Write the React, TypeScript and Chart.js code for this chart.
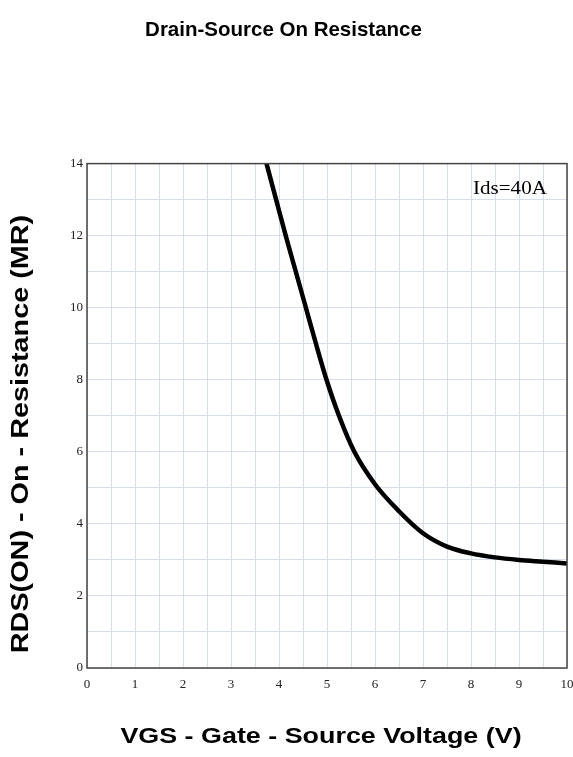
import React, { useEffect, useRef } from "react";
import { Chart, registerables } from "chart.js";

Chart.register(...registerables);

const TITLE = "Drain-Source On Resistance";
const X_TITLE = "VGS - Gate - Source Voltage (V)";
const Y_TITLE = "RDS(ON) - On - Resistance (MR)";
const NOTE = "Ids=40A";

const vgs = [3.74, 3.94, 4.14, 4.35, 4.56, 4.77, 4.99, 5.25, 5.57, 6.0, 6.5, 7.0, 7.5, 8.0, 8.5, 9.0, 9.5, 10.0];
const rds = [14, 13, 12, 11, 10, 9, 8, 7, 6, 5.1, 4.35, 3.74, 3.37, 3.18, 3.07, 3.0, 2.95, 2.9];

const X_MIN = 0;
const X_MAX = 10;
const X_STEP = 0.5;
const Y_MIN = 0;
const Y_MAX = 14;
const Y_STEP = 1;
const Y_LABEL_EVERY = 2;

function stretchedText(ctx: any, text: string, x: number, y: number, font: string, sx: number, rot: number) {
  ctx.save();
  ctx.translate(x, y);
  ctx.rotate(rot);
  ctx.scale(sx, 1);
  ctx.font = font;
  ctx.textAlign = "center";
  ctx.textBaseline = "alphabetic";
  ctx.fillText(text, 0, 0);
  ctx.restore();
}

const frame = {
  id: "frame",
  afterDraw(chart: any) {
    const { ctx, chartArea } = chart;
    const { left, top, right, bottom } = chartArea;
    ctx.save();
    ctx.strokeStyle = "#444";
    ctx.lineWidth = 1.5;
    ctx.strokeRect(left, top, right - left, bottom - top);
    ctx.fillStyle = "#000";
    ctx.save();
    ctx.translate(473, 194);
    ctx.scale(1.17, 1);
    ctx.font = "18px 'Liberation Serif', serif";
    ctx.textAlign = "left";
    ctx.textBaseline = "alphabetic";
    ctx.fillText(NOTE, 0, 0);
    ctx.restore();
    const sans = "'Liberation Sans', Arial, sans-serif";
    stretchedText(ctx, X_TITLE, 321, 743, `bold 21.5px ${sans}`, 1.25, 0);
    stretchedText(ctx, Y_TITLE, 28, 434, `bold 24px ${sans}`, 1.2, -Math.PI / 2);
    ctx.restore();
  },
};

export default function App() {
  const ref = useRef<HTMLCanvasElement>(null);
  useEffect(() => {
    document.body.style.margin = "0";
    document.body.style.overflow = "hidden";
    const data = vgs.map((x, i) => ({ x, y: rds[i] }));
    const chart = new Chart(ref.current!, {
      type: "line",
      data: {
        datasets: [
          {
            data,
            borderColor: "#000",
            borderWidth: 4.5,
            pointRadius: 0,
            cubicInterpolationMode: "monotone",
            fill: false,
          },
        ],
      },
      options: {
        animation: false,
        responsive: false,
        devicePixelRatio: 1,
        layout: { padding: { left: 0, right: 6, top: 0, bottom: 0 } },
        plugins: {
          legend: { display: false },
          tooltip: { enabled: false },
          title: {
            display: true,
            text: TITLE,
            color: "#000",
            font: { family: "'Liberation Sans', Arial, sans-serif", size: 20.5, weight: "bold" },
            padding: { top: 18, bottom: 121 },
          },
        },
        scales: {
          x: {
            type: "linear",
            min: X_MIN,
            max: X_MAX,
            afterFit: (s: any) => {
              s.height = 89;
              s.paddingLeft = 0;
              s.paddingRight = 0;
            },
            ticks: {
              stepSize: X_STEP,
              autoSkip: false,
              maxRotation: 0,
              color: "#222",
              padding: 9,
              font: { family: "'Liberation Serif', serif", size: 13 },
              callback: (v: any) => (Number.isInteger(v) ? String(v) : ""),
            },
            grid: { color: "#d6ddee", lineWidth: 1, drawTicks: false },
            border: { display: false },
          },
          y: {
            type: "linear",
            min: Y_MIN,
            max: Y_MAX,
            afterFit: (s: any) => {
              s.width = 87;
            },
            ticks: {
              stepSize: Y_STEP,
              autoSkip: false,
              color: "#222",
              padding: 4,
              font: { family: "'Liberation Serif', serif", size: 13 },
              callback: (v: any) => (v % Y_LABEL_EVERY === 0 ? String(v) : ""),
            },
            grid: { color: "#d6ddee", lineWidth: 1, drawTicks: false },
            border: { display: false },
          },
        },
      },
      plugins: [frame],
    });
    return () => chart.destroy();
  }, []);
  return <canvas ref={ref} width={573} height={757} style={{ display: "block" }} />;
}
